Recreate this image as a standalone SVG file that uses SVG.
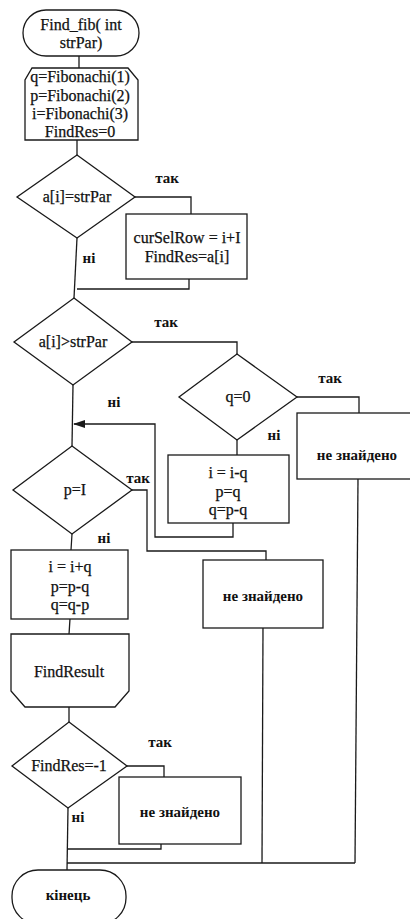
<svg xmlns="http://www.w3.org/2000/svg" width="410" height="919" viewBox="0 0 410 919">
  <style>
    .shape { fill: #ffffff; stroke: #1a1a1a; stroke-width: 1.3; }
    .line { fill: none; stroke: #1a1a1a; stroke-width: 1.3; }
    .txt { font-family: "Liberation Serif", "Times New Roman", serif; font-size: 16px; fill: #111; stroke: #111; stroke-width: 0.25; text-anchor: middle; }
    .lbl { font-family: "Liberation Serif", "Times New Roman", serif; font-size: 15px; font-weight: bold; fill: #111; text-anchor: middle; }
  </style>
  <defs>
    <marker id="arrow" viewBox="0 0 12 8" refX="11" refY="4" markerWidth="12" markerHeight="8" markerUnits="userSpaceOnUse" orient="auto">
      <path d="M0,0 L12,4 L0,8 Z" fill="#1a1a1a"/>
    </marker>
  </defs>
  <rect width="410" height="919" fill="#ffffff"/>

  <!-- connectors -->
  <g id="connectors">
    <line class="line" x1="79" y1="56" x2="79" y2="68"/>
    <line class="line" x1="77" y1="140" x2="77" y2="155"/>
    <!-- a[i]=strPar -->
    <polyline class="line" points="135,197 191,197 191,214"/>
    <polyline class="line" points="189,279 189,289 77,289"/>
    <line class="line" x1="77" y1="238" x2="74" y2="298"/>
    <!-- a[i]>strPar -->
    <polyline class="line" points="132,342 237,342 237,354"/>
    <polyline class="line" points="297,397 359,397 359,413"/>
    <line class="line" x1="358" y1="479" x2="355" y2="863"/>
    <line class="line" x1="237" y1="440" x2="237" y2="455"/>
    <polyline class="line" points="233,523 233,537 155,537 155,424 74,424" marker-end="url(#arrow)"/>
    <line class="line" x1="73" y1="385" x2="72" y2="446"/>
    <!-- p=I -->
    <polyline class="line" points="132,490 147,490 147,551 266,551 266,560"/>
    <line class="line" x1="263" y1="628" x2="262" y2="863"/>
    <line class="line" x1="72" y1="534" x2="71" y2="550"/>
    <line class="line" x1="70" y1="619" x2="69" y2="634"/>
    <line class="line" x1="69" y1="707" x2="69" y2="722"/>
    <!-- FindRes=-1 -->
    <polyline class="line" points="127,766 164,766 164,777"/>
    <polyline class="line" points="161,844 161,849 68,849"/>
    <line class="line" x1="68" y1="808" x2="67" y2="870"/>
    <line class="line" x1="67" y1="863" x2="355" y2="863"/>
  </g>

  <g id="start">
    <rect class="shape" x="23" y="10" width="116" height="46" rx="23" ry="23"/>
    <text class="txt" x="81" y="30">Find_fib( int</text>
    <text class="txt" x="81" y="48">strPar)</text>
  </g>

  <g id="init">
    <polygon class="shape" points="32,68 128,68 138,80 138,140 25,140 25,80"/>
    <text class="txt" x="80" y="82">q=Fibonachi(1)</text>
    <text class="txt" x="80" y="101">p=Fibonachi(2)</text>
    <text class="txt" x="80" y="119">i=Fibonachi(3)</text>
    <text class="txt" x="80" y="137">FindRes=0</text>
  </g>

  <g id="check-equal">
    <polygon class="shape" points="77,155 135,197 77,238 17,197"/>
    <text class="txt" x="77" y="202">a[i]=strPar</text>
    <text class="lbl" x="167" y="183">так</text>
    <text class="lbl" x="89" y="263">ні</text>
  </g>

  <g id="found">
    <rect class="shape" x="126" y="214" width="121" height="65"/>
    <text class="txt" x="187" y="243">curSelRow = i+I</text>
    <text class="txt" x="187" y="262">FindRes=a[i]</text>
  </g>

  <g id="check-greater">
    <polygon class="shape" points="74,298 132,342 73,385 14,342"/>
    <text class="txt" x="73" y="347">a[i]&gt;strPar</text>
    <text class="lbl" x="166" y="327">так</text>
    <text class="lbl" x="114" y="407">ні</text>
  </g>

  <g id="check-q">
    <polygon class="shape" points="237,354 297,397 237,440 179,397"/>
    <text class="txt" x="238" y="402">q=0</text>
    <text class="lbl" x="330" y="383">так</text>
    <text class="lbl" x="274" y="440">ні</text>
  </g>

  <g id="not-found-1">
    <rect class="shape" x="297" y="413" width="115" height="66"/>
    <text class="lbl" x="357" y="460">не знайдено</text>
  </g>

  <g id="step-down">
    <rect class="shape" x="168" y="455" width="121" height="68"/>
    <text class="txt" x="228" y="478">i = i-q</text>
    <text class="txt" x="228" y="497">p=q</text>
    <text class="txt" x="228" y="515">q=p-q</text>
  </g>

  <g id="check-p">
    <polygon class="shape" points="72,446 132,490 72,534 13,490"/>
    <text class="txt" x="75" y="495">p=I</text>
    <text class="lbl" x="138" y="483">так</text>
    <text class="lbl" x="104" y="543">ні</text>
  </g>

  <g id="not-found-2">
    <rect class="shape" x="203" y="560" width="120" height="68"/>
    <text class="lbl" x="263" y="601">не знайдено</text>
  </g>

  <g id="step-up">
    <rect class="shape" x="11" y="550" width="117" height="69"/>
    <text class="txt" x="70" y="572">i = i+q</text>
    <text class="txt" x="70" y="592">p=p-q</text>
    <text class="txt" x="70" y="610">q=q-p</text>
  </g>

  <g id="find-result">
    <polygon class="shape" points="11,634 129,634 129,691 115,707 25,707 11,691"/>
    <text class="txt" x="69" y="677">FindResult</text>
  </g>

  <g id="check-result">
    <polygon class="shape" points="69,722 127,766 68,808 12,766"/>
    <text class="txt" x="69" y="771">FindRes=-1</text>
    <text class="lbl" x="160" y="747">так</text>
    <text class="lbl" x="78" y="822">ні</text>
  </g>

  <g id="not-found-3">
    <rect class="shape" x="119" y="777" width="122" height="67"/>
    <text class="lbl" x="180" y="817">не знайдено</text>
  </g>

  <g id="end">
    <rect class="shape" x="12" y="870" width="114" height="54" rx="26" ry="26"/>
    <text class="lbl" x="68" y="900">кінець</text>
  </g>
</svg>
